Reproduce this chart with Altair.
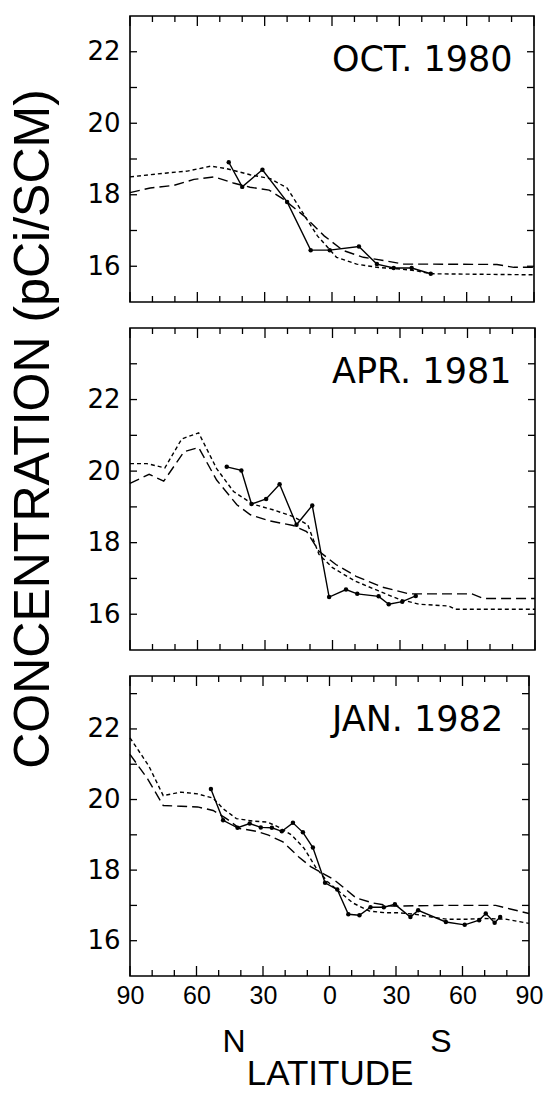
import altair as alt
import pandas as pd

# ---------------- text ----------------
PANEL_TITLES = ["OCT. 1980", "APR. 1981", "JAN. 1982"]
X_TITLE = "LATITUDE"
Y_TITLE = "CONCENTRATION  (pCi/SCM)"
HEMI_N = "N"
HEMI_S = "S"

# ---------------- axes ----------------
Y_DOMAINS = [[15, 23], [15, 24], [15, 23.5]]
Y_LABELS = [16, 18, 20, 22]
Y_TICKS = [16, 17, 18, 19, 20, 21, 22, 23]
X_LABELS = [90, 60, 30, 0, -30, -60, -90]          # N positive, S negative
X_TICKS_MAJOR = [90, 60, 30, 0, -30, -60, -90]
X_TICKS_MINOR = [80, 70, 50, 40, 20, 10, -10, -20, -40, -50, -70, -80]

# ---------------- OCT. 1980 ----------------
OCT_OBS_LAT = [46, 40, 31, 20, 9.5, 1, -12, -20, -27.5, -35.5, -44]
OCT_OBS_VAL = [18.91, 18.22, 18.70, 17.80, 16.45, 16.45, 16.55, 16.06, 15.95, 15.95, 15.79]
OCT_DOT_LAT = [90, 73.5, 64.5, 54, 47, 36.5, 27.5, 20, 14, 6.5, -2, -11, -20, -29, -37, -44, -90]
OCT_DOT_VAL = [18.5, 18.61, 18.66, 18.8, 18.73, 18.56, 18.45, 18.19, 17.59, 16.85, 16.25, 16.06,
               15.97, 15.93, 15.88, 15.79, 15.76]
OCT_DASH_LAT = [90, 81, 70.5, 61.5, 52.5, 44, 36.5, 28, 21.5, 12.5, 3.5, -5, -14, -23, -32, -41,
                -73.5, -81, -90]
OCT_DASH_VAL = [18.06, 18.19, 18.26, 18.43, 18.5, 18.33, 18.21, 18.13, 17.87, 17.41, 16.85, 16.44,
                16.25, 16.16, 16.06, 16.06, 16.05, 15.97, 15.97]

# ---------------- APR. 1981 ----------------
APR_OBS_LAT = [47, 40.5, 36, 29.5, 23.5, 16, 9, 1.5, -6, -11, -20.5, -25, -31, -37]
APR_OBS_VAL = [20.12, 20.02, 19.08, 19.22, 19.63, 18.5, 19.04, 16.48, 16.69, 16.57, 16.5, 16.28,
               16.35, 16.51]
APR_DOT_LAT = [90, 82.5, 74.5, 67, 59.5, 51.5, 44, 35.5, 26.5, 17.5, 11, 6, 0, -10, -20.5, -29.5,
               -38.5, -51.5, -54.5, -90]
APR_DOT_VAL = [20.21, 20.21, 20.09, 20.9, 21.07, 20.07, 19.43, 19.08, 18.92, 18.73, 18.5, 17.67,
               17.3, 16.93, 16.65, 16.42, 16.28, 16.23, 16.14, 16.14]
APR_DASH_LAT = [90, 81.5, 75, 66, 59.5, 51.5, 42.5, 36.5, 28, 17.5, 11.5, 6, -1.5, -10.5, -22, -34,
                -51.5, -62, -67, -90]
APR_DASH_VAL = [19.66, 19.91, 19.72, 20.54, 20.66, 19.75, 19.06, 18.78, 18.61, 18.48, 18.31, 17.76,
                17.39, 17.06, 16.76, 16.57, 16.57, 16.57, 16.44, 16.44]

# ---------------- JAN. 1982 ----------------
JAN_OBS_LAT = [53.5, 48, 41.5, 36, 31, 26, 21.5, 16.5, 12, 7.5, 2, -3.5, -8.5, -13.5, -18.5, -24.5,
               -29.5, -36.5, -40, -52.5, -61, -67.5, -70.5, -74.5, -77]
JAN_OBS_VAL = [20.3, 19.41, 19.2, 19.32, 19.21, 19.2, 19.1, 19.34, 19.07, 18.64, 17.64, 17.45, 16.75,
               16.72, 16.95, 16.95, 17.03, 16.67, 16.86, 16.53, 16.45, 16.58, 16.77, 16.51, 16.67]
JAN_DOT_LAT = [90, 81.5, 75, 67, 59.5, 52.5, 48, 42, 34.5, 28, 23, 17, 11.5, 6, 1, -5, -10.5, -18,
               -25.5, -31, -38.5, -46, -53, -62, -69, -79.5, -90]
JAN_DOT_VAL = [21.75, 20.95, 20.11, 20.21, 20.16, 20.04, 19.74, 19.46, 19.39, 19.36, 19.22, 18.99,
               18.62, 18.06, 17.68, 17.36, 17.07, 16.84, 16.79, 16.79, 16.75, 16.67, 16.61, 16.61,
               16.63, 16.61, 16.49]
JAN_DASH_LAT = [90, 82, 75, 67, 59.5, 52.5, 46.5, 40.5, 33, 27.5, 21, 14, 8.5, 4, -2, -6.5, -12,
                -19.5, -28, -50, -75, -79.5, -90]
JAN_DASH_VAL = [21.28, 20.58, 19.83, 19.81, 19.79, 19.69, 19.46, 19.18, 19.1, 18.99, 18.8, 18.38,
                18.1, 17.94, 17.73, 17.5, 17.21, 17.07, 16.98, 17.0, 17.0, 16.93, 16.77]

PANELS = [
    (OCT_OBS_LAT, OCT_OBS_VAL, OCT_DOT_LAT, OCT_DOT_VAL, OCT_DASH_LAT, OCT_DASH_VAL),
    (APR_OBS_LAT, APR_OBS_VAL, APR_DOT_LAT, APR_DOT_VAL, APR_DASH_LAT, APR_DASH_VAL),
    (JAN_OBS_LAT, JAN_OBS_VAL, JAN_DOT_LAT, JAN_DOT_VAL, JAN_DASH_LAT, JAN_DASH_VAL),
]

WIDTHS = [404, 405, 399]
HEIGHTS = [286, 322, 300]

FONT = "Liberation Sans"
NUM_FONT = "DejaVu Sans"
BLACK = "black"


def make_panel(i):
    w, h = WIDTHS[i], HEIGHTS[i]
    olat, oval, dlat, dval, alat, aval = PANELS[i]
    obs = pd.DataFrame({"lat": olat, "val": oval})
    dot = pd.DataFrame({"lat": dlat, "val": dval})
    dash = pd.DataFrame({"lat": alat, "val": aval})

    xs = alt.Scale(domain=[90, -90], nice=False, zero=False)
    ys = alt.Scale(domain=Y_DOMAINS[i], nice=False, zero=False)
    bottom = i == len(PANELS) - 1

    if bottom:
        xaxis = alt.Axis(values=X_LABELS, labelExpr="abs(datum.value)", ticks=False, domain=False,
                         grid=False, labelFont=FONT, labelFontSize=25, labelPadding=7,
                         labelFlush=False, labelOverlap=False, labelColor=BLACK,
                         title=X_TITLE, titleFont=FONT, titleFontSize=35, titleFontWeight="normal",
                         titleColor=BLACK, titleY=80, titleBaseline="top")
    else:
        xaxis = None

    yaxis = alt.Axis(values=Y_LABELS, ticks=False, domain=False, grid=False, labelFont=NUM_FONT,
                     labelFontSize=26, labelPadding=10, labelColor=BLACK, labelBaseline="middle",
                     title=None)

    def X(field):
        return alt.X(field, scale=xs, axis=xaxis)

    def Y(field):
        return alt.Y(field, scale=ys, axis=yaxis)

    obs_line = alt.Chart(obs).mark_line(color=BLACK, strokeWidth=1.4).encode(
        x=X("lat:Q"), y=Y("val:Q"))
    obs_pts = alt.Chart(obs).mark_circle(color=BLACK, size=20, opacity=1).encode(
        x=X("lat:Q"), y=Y("val:Q"))
    dot_line = alt.Chart(dot).mark_line(color=BLACK, strokeWidth=1.4, strokeDash=[4, 3]).encode(
        x=X("lat:Q"), y=Y("val:Q"))
    dash_line = alt.Chart(dash).mark_line(color=BLACK, strokeWidth=1.4, strokeDash=[10, 5]).encode(
        x=X("lat:Q"), y=Y("val:Q"))

    lo, hi = Y_DOMAINS[i]
    xmaj = pd.DataFrame({"lat": X_TICKS_MAJOR})
    xmin = pd.DataFrame({"lat": X_TICKS_MINOR})
    yt = pd.DataFrame({"val": [t for t in Y_TICKS if lo < t < hi]})

    def xrule(df, y0, y1):
        return alt.Chart(df).mark_rule(color=BLACK, strokeWidth=1.3).encode(
            x=X("lat:Q"), y=alt.value(y0), y2=alt.value(y1))

    def yrule(x0, x1):
        return alt.Chart(yt).mark_rule(color=BLACK, strokeWidth=1.3).encode(
            y=Y("val:Q"), x=alt.value(x0), x2=alt.value(x1))

    ticks = [
        xrule(xmaj, 0, 10), xrule(xmin, 0, 6),
        xrule(xmaj, h, h - 10), xrule(xmin, h, h - 6),
        yrule(0, 7), yrule(w, w - 7),
    ]

    title = alt.Chart(pd.DataFrame({"t": [PANEL_TITLES[i]]})).mark_text(
        align="left", baseline="middle", font=NUM_FONT, fontSize=35, color=BLACK
    ).encode(x=alt.value(202), y=alt.value(44), text="t:N")

    layers = [obs_line, dash_line, dot_line, obs_pts] + ticks + [title]
    if i == 1:
        layers.append(
            alt.Chart(pd.DataFrame({"t": [Y_TITLE]})).mark_text(
                align="center", baseline="middle", angle=270, font=FONT, fontSize=50, color=BLACK
            ).encode(x=alt.value(-96), y=alt.value(101), text="t:N")
        )
    if bottom:
        for txt, px in ((HEMI_N, 104), (HEMI_S, 311)):
            layers.append(
                alt.Chart(pd.DataFrame({"t": [txt]})).mark_text(
                    align="center", baseline="middle", font=FONT, fontSize=32, color=BLACK
                ).encode(x=alt.value(px), y=alt.value(h + 66), text="t:N")
            )
    return alt.layer(*layers).properties(width=w, height=h)


chart = alt.vconcat(*[make_panel(i) for i in range(3)], spacing=26, bounds="flush").properties(
    padding={"left": 0, "top": 6, "right": 0, "bottom": 0},
    background="white",
).configure_view(stroke=BLACK, strokeWidth=1.6)

chart.save("out.html", embed_options={"renderer": "svg", "actions": False})
